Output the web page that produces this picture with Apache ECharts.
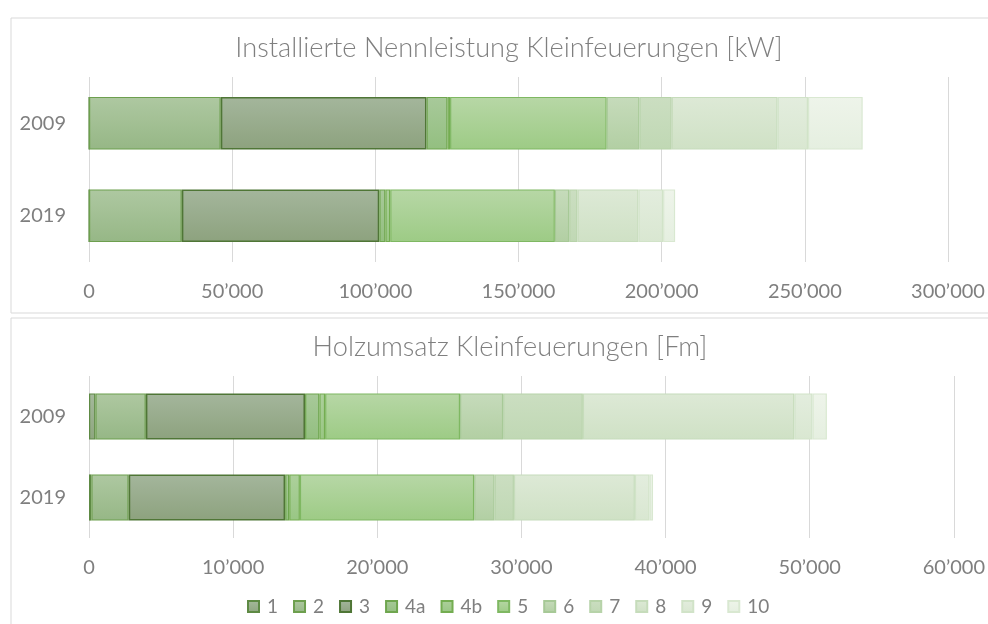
<!DOCTYPE html>
<html>
<head>
<meta charset="utf-8">
<script src="https://cdn.jsdelivr.net/npm/echarts@6/dist/echarts.min.js"></script>
<style>
  html, body { margin: 0; padding: 0; background: #fff; }
  #chart { width: 988px; height: 624px; }
</style>
</head>
<body>
<div id="chart"></div>
<script>
// categories
const years = ["2009", "2019"];
const groups = ["1", "2", "3", "4a", "4b", "5", "6", "7", "8", "9", "10"];

// Installierte Nennleistung [kW], one value per group
const kw2009 = [0, 46000, 71900, 7300, 900, 54700, 11400, 11300, 37000, 10600, 19100];
const kw2019 = [0, 32400, 69000, 2100, 1700, 57500, 5000, 2900, 21300, 8600, 4200];

// Holzumsatz [Fm], one value per group
const fm2009 = [440, 3500, 11050, 990, 400, 9360, 2990, 5530, 14670, 1260, 1000];
const fm2019 = [160, 2590, 10860, 280, 740, 12090, 1420, 1340, 8390, 1020, 240];

// axis ticks
const kwTicks = { max: 300000, step: 50000 };
const fmTicks = { max: 60000, step: 10000 };

// styles
const fillTop = ["#a5b99c", "#aec8a1", "#a4b69c", "#a8c99a", "#add09c", "#b7d7a6", "#c6dbbb", "#cbdec1", "#dde9d6", "#e3edde", "#eef4ea"];
const fillBot = ["#8ea67f", "#96b786", "#8da27e", "#93bf80", "#99c684", "#9dcb85", "#b2cfa3", "#c0d8b4", "#cfe1c5", "#d9e7d1", "#e5efe0"];
const strokes = ["#5e8a44", "#6d9f4e", "#4f7636", "#6fa64f", "#74ad51", "#7fb862", "#a7c997", "#b7d3a9", "#c6dcbb", "#d1e3c8", "#d9e8d1"];

const textColor = "#7f7f7f";
const fontFamily = "Lato, 'Noto Sans', sans-serif";

const fmt = (v) => String(v).replace(/\B(?=(\d{3})+(?!\d))/g, "\u2019");

const chart = echarts.init(document.getElementById("chart"));

const makeSeries = (idx, a, b, i) => ({
  name: groups[i],
  type: "bar",
  stack: "s" + idx,
  xAxisIndex: idx,
  yAxisIndex: idx,
  barWidth: "57%",
  data: [a[i], b[i]],
  itemStyle: {
    color: new echarts.graphic.LinearGradient(0, 0, 0, 1, [
      { offset: 0, color: fillTop[i] },
      { offset: 1, color: fillBot[i] },
    ]),
    borderColor: strokes[i],
    borderWidth: i === 2 ? 1.6 : 1.2,
  },
  emphasis: { disabled: true },
});

const series = [];
groups.forEach((g, i) => series.push(makeSeries(0, kw2009, kw2019, i)));
groups.forEach((g, i) => series.push(makeSeries(1, fm2009, fm2019, i)));

const xAxis = (ticks, gi) => ({
  type: "value",
  gridIndex: gi,
  min: 0,
  max: ticks.max,
  interval: ticks.step,
  axisLine: { show: false },
  axisTick: { show: false },
  splitLine: { lineStyle: { color: "#d9d9d9", width: 1 } },
  axisLabel: {
    color: textColor,
    fontFamily,
    fontSize: 20,
    margin: 20,
    formatter: fmt,
  },
});

const yAxis = (gi) => ({
  type: "category",
  gridIndex: gi,
  data: years,
  inverse: true,
  axisLine: { show: false },
  axisTick: { show: false },
  axisLabel: { color: textColor, fontFamily, fontSize: 20, margin: 23 },
});

const titleStyle = { color: textColor, fontFamily, fontSize: 27.2, fontWeight: 300 };

const option = {
  animation: false,
  graphic: [
    { type: "rect", z: -10, shape: { x: 11, y: 18, width: 990, height: 295 },
      style: { fill: "none", stroke: "#d9d9d9", lineWidth: 1 } },
    { type: "rect", z: -10, shape: { x: 11, y: 318, width: 990, height: 320 },
      style: { fill: "none", stroke: "#d9d9d9", lineWidth: 1 } },
  ],
  title: [
    { text: "Installierte Nennleistung Kleinfeuerungen [kW]", left: 504, top: 30, textAlign: "center",
      textStyle: titleStyle },
    { text: "Holzumsatz Kleinfeuerungen [Fm]", left: 505, top: 329, textAlign: "center",
      textStyle: titleStyle },
  ],
  legend: {
    data: groups,
    bottom: 3,
    left: 242,
    icon: "rect",
    itemWidth: 11,
    itemHeight: 11,
    itemGap: 15,
    textStyle: { color: textColor, fontFamily, fontSize: 19, padding: [0, 0, 0, 3] },
  },
  grid: [
    { left: 89, right: 40, top: 77, height: 185, containLabel: false },
    { left: 89, right: 34, top: 376, height: 162, containLabel: false },
  ],
  xAxis: [xAxis(kwTicks, 0), xAxis(fmTicks, 1)],
  yAxis: [yAxis(0), yAxis(1)],
  series,
};

chart.setOption(option);
</script>
</body>
</html>
